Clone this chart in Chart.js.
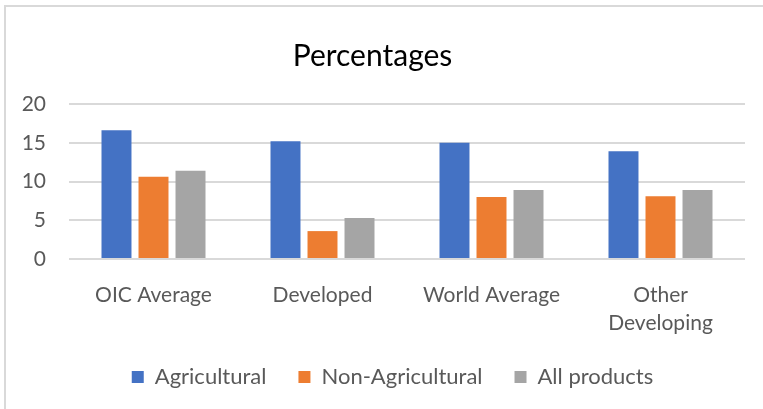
<!DOCTYPE html>
<html>
<head>
<meta charset="utf-8">
<script src="https://cdn.jsdelivr.net/npm/chart.js@4.4.1/dist/chart.umd.min.js"></script>
<style>
  html, body { margin: 0; padding: 0; background: #fff; overflow: hidden; }
  #frame {
    position: absolute; left: 4px; top: 5px;
    width: 800px; height: 420px;
    border: 2px solid #d9d9d9;
  }
  #wrap { position: absolute; left: 0; top: 0; width: 763px; height: 409px; }
</style>
</head>
<body>
<div id="frame"></div>
<div id="wrap"><canvas id="tariffChart"></canvas></div>
<script>
// values
const categories = ["OIC Average", "Developed", "World Average", ["Other", "Developing"]];
const agricultural = [16.6, 15.2, 15.0, 13.9];
const nonAgricultural = [10.6, 3.6, 8.0, 8.1];
const allProducts = [11.4, 5.3, 8.9, 8.9];
const yTicks = [0, 5, 10, 15, 20];

const FONT = "Lato, 'Open Sans', sans-serif";
const GREY = "#595959";

// legend sits a bit right of the title and close under the axis labels
const legendShift = {
  id: "legendShift",
  afterLayout(chart) {
    const lg = chart.legend;
    lg.left += 20;
    lg.right += 20;
    lg.top -= 11;
    lg.bottom -= 11;
  },
};

const ctx = document.getElementById("tariffChart").getContext("2d");

new Chart(ctx, {
  type: "bar",
  data: {
    labels: categories,
    datasets: [
      { label: "Agricultural", data: agricultural, backgroundColor: "#4472C4" },
      { label: "Non-Agricultural", data: nonAgricultural, backgroundColor: "#ED7D31" },
      { label: "All products", data: allProducts, backgroundColor: "#A5A5A5" },
    ],
  },
  plugins: [legendShift],
  options: {
    responsive: true,
    maintainAspectRatio: false,
    animation: false,
    categoryPercentage: 0.657,
    barPercentage: 0.81,
    layout: { padding: { left: 0, right: 18, top: 38, bottom: 0 } },
    plugins: {
      title: {
        display: true,
        text: "Percentages",
        color: "#000",
        font: { family: FONT, size: 30, weight: "normal" },
        padding: { top: 0, bottom: 30 },
      },
      legend: {
        position: "bottom",
        labels: {
          color: GREY,
          font: { family: FONT, size: 22 },
          boxWidth: 12,
          boxHeight: 12,
          padding: 32,
        },
      },
      tooltip: { enabled: false },
    },
    scales: {
      x: {
        grid: { display: false, drawTicks: false },
        border: { display: false },
        afterFit: (axis) => {
          axis.height = 86;
        },
        ticks: {
          color: GREY,
          font: { family: FONT, size: 21, lineHeight: 1.33 },
          padding: 22,
          maxRotation: 0,
          autoSkip: false,
        },
      },
      y: {
        min: 0,
        max: 20,
        afterBuildTicks: (axis) => {
          axis.ticks = yTicks.map((v) => ({ value: v }));
        },
        afterFit: (axis) => {
          axis.width = 69;
        },
        grid: { color: "#d9d9d9", lineWidth: 2, drawTicks: false },
        border: { display: false },
        ticks: {
          color: GREY,
          font: { family: FONT, size: 21 },
          padding: 23,
        },
      },
    },
  },
});
</script>
</body>
</html>
